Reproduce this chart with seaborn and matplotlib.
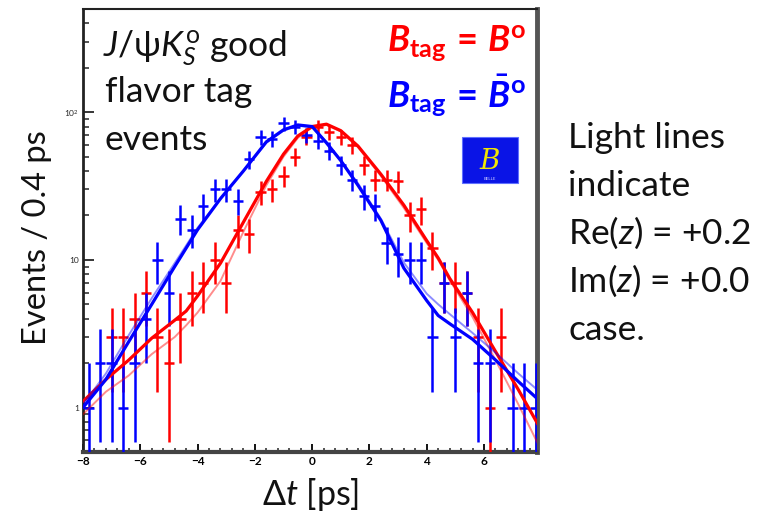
import numpy as np
import pandas as pd
import matplotlib
matplotlib.use("Agg")
import matplotlib.pyplot as plt
import seaborn as sns
from matplotlib.patches import Rectangle
from matplotlib.ticker import FixedLocator, FixedFormatter, NullFormatter

sns.set_theme(style="white")
plt.rcParams["font.family"] = ["Lato", "DejaVu Sans"]
plt.rcParams["mathtext.fontset"] = "custom"
plt.rcParams["mathtext.rm"] = "Lato"
plt.rcParams["mathtext.it"] = "Lato:italic"
plt.rcParams["mathtext.bf"] = "Lato:bold"
plt.rcParams["mathtext.bfit"] = "Lato:bold:italic"
plt.rcParams["mathtext.sf"] = "Lato"
plt.rcParams["mathtext.fallback"] = "stixsans"

# ---- histogram: events per 0.4 ps bin (NaN = empty bin) ----
dt_centers = [-7.8, -7.4, -7.0, -6.6, -6.2, -5.8, -5.4, -5.0, -4.6, -4.2,
              -3.8, -3.4, -3.0, -2.6, -2.2, -1.8, -1.4, -1.0, -0.6, -0.2,
              0.2, 0.6, 1.0, 1.4, 1.8, 2.2, 2.6, 3.0, 3.4, 3.8,
              4.2, 4.6, 5.0, 5.4, 5.8, 6.2, 6.6, 7.0, 7.4, 7.8]
nan = np.nan
counts_b0_tag = [nan, nan, 3, 3, 4, 6, 3, 2, 4, 6,
                 7, 10, 7, 16, 15, 29, 30, 37, 50, 68,
                 80, 73, 68, 60, 44, 35, 35, 34, 20, 22,
                 12, 7, 7, 6, 3, 1, 3, nan, nan, nan]
counts_b0bar_tag = [1, 2, 2, 1, 2, 4, 10, 6, 19, 16,
                    23, 30, 30, 25, 48, 68, 66, 84, 80, 70,
                    64, 55, 44, 35, 27, 23, 13, 11, 10, 10,
                    3, 7, 3, 6, 2, 2, nan, 1, 1, 1]

# ---- fitted curves (dark: fit result, light: Re(z)=+0.2, Im(z)=0) ----
fit_dt = [-8.0, -7.2, -6.4, -5.6, -4.8, -4.4, -4.0, -3.2, -2.4, -1.6, -1.0, -0.5,
          0.0, 0.5, 1.0, 1.6, 2.4, 3.2, 4.0, 4.4, 4.8, 5.6, 6.4, 7.2, 7.9]
fit_b0_tag = [1.1, 1.55, 2.1, 2.95, 3.9, 4.5, 5.7, 9.5, 18, 34, 52, 69,
              80, 83, 75, 59, 38, 23.5, 13.5, 10.3, 7.5, 4.4, 2.4, 1.32, 0.76]
fit_b0_tag_alt = [0.9, 1.28, 1.65, 2.3, 3.0, 3.6, 4.4, 7.2, 15.5, 32, 50, 67,
                  79, 82, 74, 58, 37, 22.5, 13, 10, 7.3, 4.1, 2.1, 1.05, 0.56]
fit_b0bar_tag = [1.0, 1.55, 2.8, 5.0, 9.0, 12, 16, 26, 40, 63, 76, 82,
                 80, 62, 47, 32, 18.5, 8.8, 5.3, 4.2, 3.7, 2.9, 2.1, 1.5, 1.13]
fit_b0bar_tag_alt = [1.05, 1.7, 3.1, 5.5, 9.5, 12.5, 16.5, 26, 40, 62, 75, 81,
                     79, 63, 47, 33, 19, 9.6, 5.9, 5.0, 4.3, 3.2, 2.35, 1.7, 1.3]

RED = "#ff0000"
BLUE = "#0000ff"
INK = "#111111"

W, H = 776, 517
fig = plt.figure(figsize=(W / 100, H / 100), dpi=100)
ax = fig.add_axes([83 / W, 1 - 452 / H, (537 - 83) / W, (452 - 9) / H])
ax.set_yscale("log")

def fx(px):
    return px / W

def fy(py):
    return 1 - py / H

def draw_hist(counts, color):
    y = np.array(counts, dtype=float)
    x = np.array(dt_centers)
    ok = ~np.isnan(y)
    err = np.sqrt(y[ok])
    ax.errorbar(x[ok], y[ok], xerr=0.18, yerr=[err, err], fmt="none",
                ecolor=color, elinewidth=1.8, capsize=0, zorder=3)

def draw_fit(values, color, lw, alpha):
    df = pd.DataFrame({"dt": fit_dt, "n": values})
    sns.lineplot(data=df, x="dt", y="n", ax=ax, color=color, lw=lw,
                 alpha=alpha, sort=False, estimator=None, zorder=4)

draw_hist(counts_b0_tag, RED)
draw_fit(fit_b0_tag_alt, RED, 1.4, 0.45)
draw_fit(fit_b0_tag, RED, 2.3, 1.0)
draw_hist(counts_b0bar_tag, BLUE)
draw_fit(fit_b0bar_tag_alt, BLUE, 1.4, 0.45)
draw_fit(fit_b0bar_tag, BLUE, 2.3, 1.0)

ax.set_xlim(-8, 7.85)
ax.set_ylim(0.5, 500)
ax.set_xlabel("")
ax.set_ylabel("")

# ticks
ax.xaxis.set_major_locator(FixedLocator([-8, -6, -4, -2, 0, 2, 4, 6]))
ax.xaxis.set_major_formatter(FixedFormatter(["\u22128", "\u22126", "\u22124", "\u22122",
                                             "0", "2", "4", "6"]))
ax.xaxis.set_minor_locator(FixedLocator(list(np.arange(-8, 7.9, 0.4))))
ax.yaxis.set_major_locator(FixedLocator([1, 10, 100]))
ax.yaxis.set_major_formatter(FixedFormatter(["1", "10", "10$^2$"]))
minor_y = [m * d for d in (0.1, 1, 10, 100) for m in range(2, 10)]
ax.yaxis.set_minor_locator(FixedLocator([v for v in minor_y if 0.5 <= v <= 500]))
ax.yaxis.set_minor_formatter(NullFormatter())
ax.tick_params(axis="x", which="major", direction="in", length=6, width=1.3,
               labelsize=8.5, pad=3, colors="black")
ax.tick_params(axis="x", which="minor", direction="in", length=3, width=1.1)
ax.tick_params(axis="y", which="major", direction="in", length=8, width=1.3,
               labelsize=6, pad=3)
ax.tick_params(axis="y", which="minor", direction="in", length=4, width=1.1)
ax.tick_params(bottom=True, left=True, top=False, right=False)
ax.tick_params(axis="x", which="minor", bottom=True)
ax.tick_params(axis="y", which="minor", left=True)
for lab in ax.get_xticklabels():
    lab.set_fontweight("bold")

for side, lw, col in (("left", 2.0, "#222222"), ("top", 1.5, "#222222"),
                      ("right", 3.5, "#555555"), ("bottom", 3.0, "#444444")):
    ax.spines[side].set_visible(True)
    ax.spines[side].set_linewidth(lw)
    ax.spines[side].set_color(col)

# axis titles
fig.text(fx(37), fy(238), "Events / 0.4 ps", rotation=90, ha="center", va="center",
         fontsize=23.5, color=INK)
fig.text(fx(311), fy(505), r"$\Delta t$ [ps]", ha="center", va="baseline",
         fontsize=24.5, color=INK)

# sample description
fig.text(fx(103), fy(56), r"$J/$ψ$K_S^{\mathrm{o}}$ good", ha="left", va="baseline",
         fontsize=25.5, color=INK)
fig.text(fx(105), fy(102), "flavor tag", ha="left", va="baseline",
         fontsize=25.5, color=INK)
fig.text(fx(105), fy(150), "events", ha="left", va="baseline",
         fontsize=25.5, color=INK)

# tag legend
fig.text(fx(526), fy(52), r"$\mathbfit{B}_{\mathbf{tag}}\,\mathbf{=}\,\mathbfit{B}^{\mathbf{o}}$",
         ha="right", va="baseline", fontsize=26, color=RED)
fig.text(fx(526), fy(107), r"$\mathbfit{B}_{\mathbf{tag}}\,\mathbf{=}\,\bar{\mathbfit{B}}^{\mathbf{o}}$",
         ha="right", va="baseline", fontsize=26, color=BLUE)

# Belle emblem
fig.patches.append(Rectangle((fx(462), fy(183)), (518 - 462) / W, (183 - 137) / H,
                             transform=fig.transFigure, facecolor="#0a14e6",
                             edgecolor="#6070ff", lw=0.8, zorder=5))
fig.text(fx(490), fy(169), "B", ha="center", va="baseline", fontsize=20,
         family="DejaVu Serif", style="italic", color="#f2e600", zorder=6)
fig.text(fx(490), fy(180), "BELLE", ha="center", va="baseline", fontsize=3.2,
         color="#c8c8ff", zorder=6)

# note on the light curves
note = ["Light lines", "indicate", r"Re($z$) = +0.2", r"Im($z$) = +0.0", "case."]
for i, line in enumerate(note):
    fig.text(fx(568), fy(148 + 48 * i), line, ha="left", va="baseline",
             fontsize=25.5, color=INK)

fig.savefig("out.png", dpi=100, facecolor="white")
